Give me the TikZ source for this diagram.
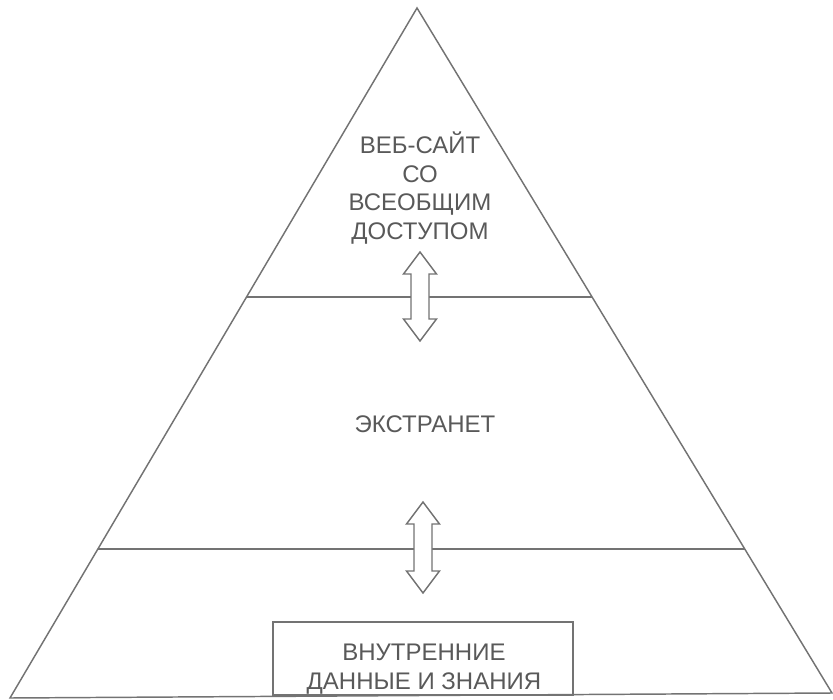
\documentclass[tikz,border=0pt]{standalone}
\usepackage{fontspec}
\setmainfont{Liberation Sans}
\usepackage{tikz}
\usetikzlibrary{positioning}

\begin{document}
\begin{tikzpicture}[x=0.75pt,y=-0.75pt,
	edge/.style={draw=black!55,line width=1.1pt},
	lbl/.style={text=black!65,font=\fontsize{18}{21.5}\selectfont,align=center,inner sep=0pt},
	updown/.style={draw=black!55,line width=1.1pt,fill=white,line join=miter}]
	\useasboundingbox (0,0) rectangle (833,700);
	% pyramid
	\coordinate (apex) at (417,8);
	\coordinate (bl) at (10,698);
	\coordinate (br) at (832,693);
	\draw[edge] (bl) -- (apex) -- (br) -- cycle;
	\draw[edge] (246,297) -- (592,297);
	\draw[edge] (98,549) -- (745,549);
	% arrows between levels
	\foreach \x/\yt/\yb in {420/252/341, 423/502/593}
		\draw[updown] (\x,\yt) -- (\x+16.5,\yt+22) -- (\x+9,\yt+22) -- (\x+9,\yb-22) -- (\x+16.5,\yb-22) -- (\x,\yb) -- (\x-16.5,\yb-22) -- (\x-9,\yb-22) -- (\x-9,\yt+22) -- (\x-16.5,\yt+22) -- cycle;
	% labels
	\node[lbl] (web) at (420,188) {ВЕБ-САЙТ\\СО\\ВСЕОБЩИМ\\ДОСТУПОМ};
	\node[lbl] (extra) at (425,424) {ЭКСТРАНЕТ};
	\node[edge,minimum width=225pt,minimum height=54.75pt] (box) at (423,658.5) {};
	\node[lbl] (intra) at (424,669) {ВНУТРЕННИЕ\\ДАННЫЕ И ЗНАНИЯ};
\end{tikzpicture}
\end{document}
